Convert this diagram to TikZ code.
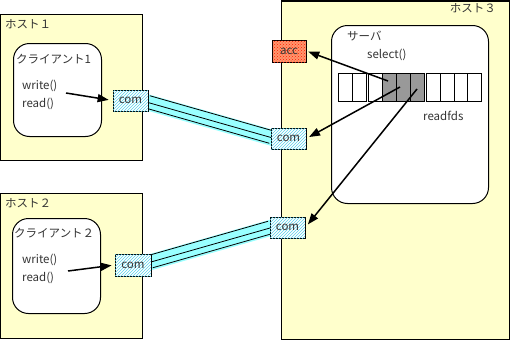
\documentclass[tikz,border=0pt]{standalone}
\usepackage{fontspec}
\setmainfont{Noto Sans CJK JP}
\usetikzlibrary{arrows.meta,calc,patterns}
\definecolor{hostbg}{RGB}{255,255,204}
\definecolor{pipecyan}{RGB}{153,255,255}
\definecolor{hatchcyan}{RGB}{90,210,235}
\definecolor{txt}{RGB}{51,51,51}
\definecolor{cellgray}{RGB}{153,153,153}
\definecolor{accbg}{RGB}{255,150,110}
\definecolor{accdot}{RGB}{255,30,0}
\tikzset{
  hostbox/.style={draw=black, line width=1pt, fill=hostbg, anchor=north west, inner sep=0pt},
  procbox/.style={draw=black, line width=1pt, fill=white, rounded corners=16pt, anchor=north west, inner sep=0pt},
  combox/.style={draw=black, line width=0.8pt, fill=white, postaction={pattern=north east lines, pattern color=hatchcyan}, minimum width=35pt, minimum height=21pt, inner sep=0pt},
  accbox/.style={draw=black, line width=0.8pt, fill=accbg, postaction={pattern=crosshatch dots, pattern color=accdot}, minimum width=34pt, minimum height=22pt, inner sep=0pt},
  lbl/.style={text=txt, font=\fontsize{11.5}{13}\selectfont, inner sep=0pt},
  cellw/.style={draw=black, line width=0.8pt, fill=white},
  cellg/.style={draw=black, line width=0.8pt, fill=cellgray},
  arr/.style={-{Triangle[length=11pt,width=8pt]}, line width=1.5pt, black},
}
\newcommand{\pipeline}[2]{%
  \draw[pipecyan, line width=16pt] ($(#1)!-3pt!(#2)$) -- ($(#2)!-3pt!(#1)$);
  \foreach \o in {-6,0,7}{%
    \draw[black, line width=0.8pt] ($(#1)!\o pt!90:(#2)$) -- ($(#2)!\o pt!-90:(#1)$);
  }%
}
\begin{document}
\begin{tikzpicture}[x=1pt,y=-1pt]
\useasboundingbox (0,0) rectangle (511,340);
% hosts
\node[hostbox, minimum width=142pt, minimum height=146pt] (h1) at (0,14) {};
\node[hostbox, minimum width=142pt, minimum height=145pt] (h2) at (0,193) {};
\node[hostbox, minimum width=228pt, minimum height=338pt] (h3) at (281,0.5) {};
% processes
\node[procbox, minimum width=88pt, minimum height=93pt] (cl1) at (13,43) {};
\node[procbox, minimum width=88pt, minimum height=95pt] (cl2) at (12,218) {};
\node[procbox, minimum width=157pt, minimum height=178pt] (srv) at (331,25) {};
% readfds cells
\foreach \a/\b in {338/352,352/366,368/382,426/440,440/454,454/467,467/481}{
  \draw[cellw] (\a,73) rectangle (\b,101);
}
\foreach \a/\b in {382/396,396/410,410/424}{
  \draw[cellg] (\a,73) rectangle (\b,101);
}
% pipes between the com boxes
\coordinate (e1) at (148,102.5);
\coordinate (e3a) at (271,137.5);
\coordinate (e2) at (151,262);
\coordinate (e3b) at (270,228);
\pipeline{e1}{e3a}
\pipeline{e2}{e3b}
\node[combox] (com1) at (130.5,100.5) {};
\node[combox] (c3a) at (288.5,138.5) {};
\node[combox] (c3b) at (287.5,227.5) {};
\node[combox, minimum width=36pt, minimum height=22pt] (com2) at (133,265) {};
\node[lbl] at (com1) {com};
\node[lbl] at (c3a) {com};
\node[lbl] at (c3b) {com};
\node[lbl] at (com2) {com};
\node[accbox] (acc) at (289,51) {};
\node[lbl] at (acc) {acc};
% labels
\node[lbl, anchor=west] (t1) at (5,24) {ホスト１};
\node[lbl, anchor=west] (t2) at (5,203) {ホスト２};
\node[lbl, anchor=east] (t3) at (496,8) {ホスト３};
\node[lbl, anchor=west] (n1) at (16,59) {クライアント1};
\node[lbl, anchor=west] (n2) at (14,233) {クライアント２};
\node[lbl, anchor=west] (w1) at (22,86) {write()};
\node[lbl, anchor=west] (r1) at (22,104) {read()};
\node[lbl, anchor=west] (w2) at (22,260) {write()};
\node[lbl, anchor=west] (r2) at (22,278) {read()};
\node[lbl, anchor=west] (sv) at (347,36) {サーバ};
\node[lbl, anchor=west] (sel) at (367,55) {select()};
\node[lbl, anchor=west] (rfd) at (423,116) {readfds};
% arrows
\coordinate (s1) at (66,93);
\coordinate (s2) at (68,271);
\coordinate (f1) at (388,81);
\coordinate (f2) at (400,87);
\coordinate (f3) at (417,89);
\draw[arr, shorten >=4pt] (s1) -- (com1.west);
\draw[arr, shorten >=3pt] (s2) -- (com2.west);
\draw[arr, shorten >=2pt] (f1) -- (acc.east);
\draw[arr, shorten >=3pt] (f2) -- (c3a.east);
\draw[arr, shorten >=4pt] (f3) -- (c3b.east);
\end{tikzpicture}
\end{document}
